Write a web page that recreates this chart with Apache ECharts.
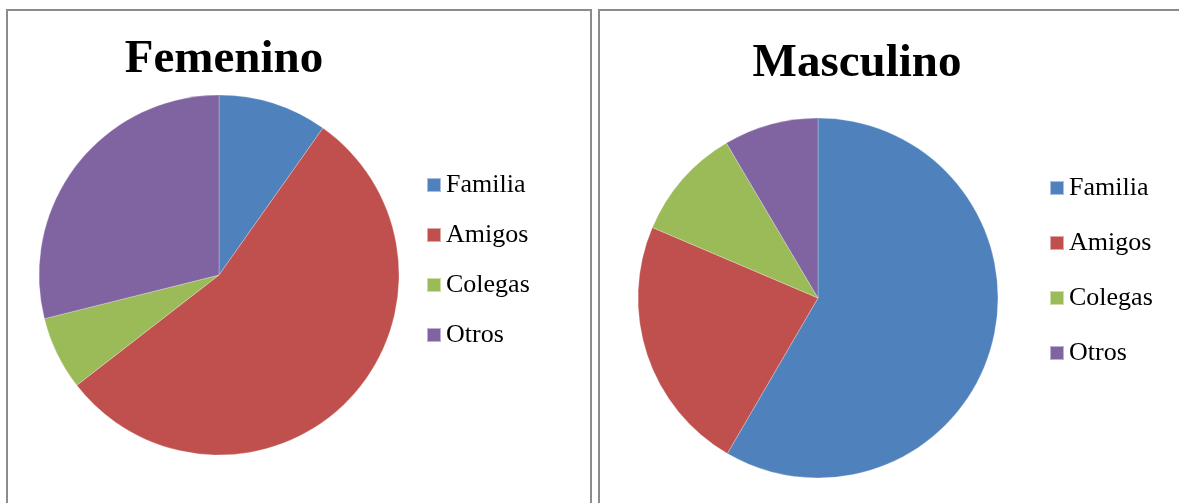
<!DOCTYPE html>
<html>
<head>
<meta charset="utf-8">
<script src="https://cdn.jsdelivr.net/npm/echarts@6/dist/echarts.min.js"></script>
<style>
  html, body { margin: 0; padding: 0; background: #fff; }
  #chart { width: 1179px; height: 503px; }
</style>
</head>
<body>
<div id="chart"></div>
<script>
// categories and values (percent)
var categories = ['Familia', 'Amigos', 'Colegas', 'Otros']
var femenino = [9.8, 54.7, 6.6, 28.9]
var masculino = [58.4, 23.0, 10.1, 8.5]
var colors = ['#4F81BD', '#C0504D', '#9BBB59', '#8064A2']

var serif = "'Liberation Serif', 'Times New Roman', serif"

function toData(values) {
  return categories.map(function(name, i) {
    return { name: name, value: values[i] }
  })
}

var chart = echarts.init(document.getElementById('chart'))

chart.setOption({
  color: colors,
  animation: false,
  title: [
    {
      text: 'Femenino',
      left: 219,
      top: 31,
      textAlign: 'center',
      textStyle: { fontFamily: serif, fontSize: 47, fontWeight: 'bold', color: '#000' }
    },
    {
      text: 'Masculino',
      left: 852,
      top: 35,
      textAlign: 'center',
      textStyle: { fontFamily: serif, fontSize: 47, fontWeight: 'bold', color: '#000' }
    }
  ],
  legend: [
    {
      orient: 'vertical',
      left: 421,
      top: 167,
      icon: 'rect',
      itemWidth: 14,
      itemHeight: 14,
      itemGap: 24,
      selectedMode: false,
      data: categories,
      textStyle: { fontFamily: serif, fontSize: 26, lineHeight: 25, color: '#000' }
    },
    {
      orient: 'vertical',
      left: 1044,
      top: 170,
      icon: 'rect',
      itemWidth: 14,
      itemHeight: 14,
      itemGap: 29,
      selectedMode: false,
      data: categories,
      textStyle: { fontFamily: serif, fontSize: 26, lineHeight: 25, color: '#000' }
    }
  ],
  graphic: [
    {
      type: 'rect',
      shape: { x: 7, y: 10, width: 584, height: 600 },
      style: { fill: 'none', stroke: '#8c8c8c', lineWidth: 2 },
      silent: true
    },
    {
      type: 'rect',
      shape: { x: 599, y: 10, width: 700, height: 600 },
      style: { fill: 'none', stroke: '#8c8c8c', lineWidth: 2 },
      silent: true
    }
  ],
  series: [
    {
      name: 'Femenino',
      type: 'pie',
      center: [219, 275],
      radius: 180,
      startAngle: 90,
      clockwise: true,
      label: { show: false },
      labelLine: { show: false },
      emphasis: { disabled: true },
      itemStyle: { borderColor: 'rgba(255,255,255,0.5)', borderWidth: 0.5 },
      data: toData(femenino)
    },
    {
      name: 'Masculino',
      type: 'pie',
      center: [818, 298],
      radius: 180,
      startAngle: 90,
      clockwise: true,
      label: { show: false },
      labelLine: { show: false },
      emphasis: { disabled: true },
      itemStyle: { borderColor: 'rgba(255,255,255,0.5)', borderWidth: 0.5 },
      data: toData(masculino)
    }
  ]
})
</script>
</body>
</html>
